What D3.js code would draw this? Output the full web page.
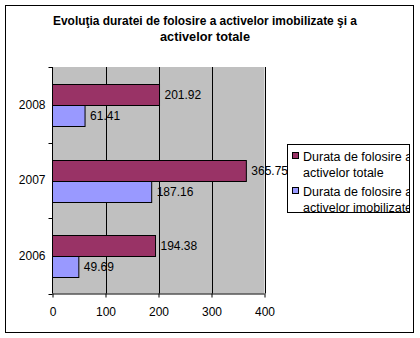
<!DOCTYPE html>
<html>
<head>
<meta charset="utf-8">
<script src="https://cdn.jsdelivr.net/npm/d3@7"></script>
<style>
  html, body { margin: 0; padding: 0; background: #fff; }
  svg { display: block; font-family: Arial, "Liberation Sans", sans-serif; }
</style>
</head>
<body>
<svg id="chart" width="420" height="338"></svg>
<script>
// Years shown on the category axis (top to bottom: 2008, 2007, 2006)
const years = ["2006", "2007", "2008"];
// Durata de folosire a activelor totale
const totale = [194.38, 365.75, 201.92];
// Durata de folosire a activelor imobilizate
const imobilizate = [49.69, 187.16, 61.41];
// Value-axis ticks
const xTicks = [0, 100, 200, 300, 400];
const seriesNames = [
  ["Durata de folosire a", "activelor totale"],
  ["Durata de folosire a", "activelor imobilizate"]
];
const seriesColors = ["#993366", "#9999FF"];
const titleLines = [
  "Evoluţia duratei de folosire a activelor imobilizate şi a",
  "activelor totale"
];
const titleWidths = [304, 90];

const svg = d3.select("#chart");

// outer frame
svg.append("rect")
  .attr("x", 5.5).attr("y", 5.5)
  .attr("width", 408).attr("height", 327)
  .attr("fill", "#fff").attr("stroke", "#000").attr("stroke-width", 1);

// title, two centred lines
titleLines.forEach((t, i) => {
  svg.append("text")
    .attr("x", 205 - titleWidths[i] / 2).attr("y", 25 + i * 16)
    .attr("font-weight", "bold")
    .attr("font-size", 12.5)
    .attr("textLength", titleWidths[i])
    .attr("lengthAdjust", "spacingAndGlyphs")
    .text(t);
});

const plot = { left: 52.5, right: 264.5, top: 67, bottom: 293.5 };

const x = d3.scaleLinear().domain([0, 400]).range([plot.left, plot.right]);
const y = d3.scaleBand().domain(years.slice().reverse())
  .range([plot.top, plot.bottom]).paddingInner(0).paddingOuter(0);
const inner = d3.scaleBand().domain([0, 1])
  .range([y.bandwidth() * 0.227, y.bandwidth() * 0.787]);

// plot background
svg.append("rect")
  .attr("x", plot.left).attr("y", plot.top)
  .attr("width", plot.right - plot.left).attr("height", plot.bottom - plot.top)
  .attr("fill", "#C0C0C0");

// vertical gridlines
svg.append("g").selectAll("line").data(xTicks.slice(1)).join("line")
  .attr("x1", d => Math.round(x(d)) + 0.5).attr("x2", d => Math.round(x(d)) + 0.5)
  .attr("y1", plot.top).attr("y2", plot.bottom)
  .attr("stroke", "#000").attr("stroke-width", 1);

// bars and their value labels
const series = [totale, imobilizate];
series.forEach((vals, si) => {
  const g = svg.append("g");
  g.selectAll("rect").data(years).join("rect")
    .attr("x", x(0))
    .attr("y", (d) => Math.round(y(d) + inner(si)) + 0.5)
    .attr("width", (d, i) => x(vals[i]) - x(0))
    .attr("height", Math.round(inner.bandwidth()))
    .attr("fill", seriesColors[si])
    .attr("stroke", "#000").attr("stroke-width", 1);
  g.selectAll("text").data(years).join("text")
    .attr("x", (d, i) => x(vals[i]) + 5)
    .attr("y", (d) => y(d) + inner(si) + inner.bandwidth() / 2 + 4.5)
    .attr("font-size", 12)
    .attr("fill", "#000")
    .text((d, i) => vals[i].toFixed(2));
});

// value axis
const xAxis = d3.axisBottom(x).tickValues(xTicks).tickSize(4).tickPadding(10);
const gx = svg.append("g").attr("transform", `translate(0,${plot.bottom})`).call(xAxis);
gx.select(".domain").attr("d", `M${plot.left},0.5H${plot.right}`);
gx.selectAll(".tick line").attr("stroke", "#000");
gx.selectAll(".tick text").attr("font-size", 12).attr("font-family", "Arial, 'Liberation Sans', sans-serif").attr("fill", "#000");

// category axis
const yAxis = d3.axisLeft(y).tickSize(0).tickPadding(7);
const gy = svg.append("g").attr("transform", `translate(${plot.left},0)`).call(yAxis);
gy.select(".domain").attr("d", `M0,${plot.top}V${plot.bottom}`);
gy.selectAll(".tick text").attr("font-size", 12).attr("font-family", "Arial, 'Liberation Sans', sans-serif").attr("fill", "#000");
// category separators as ticks
gy.append("g").selectAll("line")
  .data(years.map(d => y(d)).concat([plot.bottom]))
  .join("line")
  .attr("x1", -4).attr("x2", 0)
  .attr("y1", d => Math.round(d) + 0.5).attr("y2", d => Math.round(d) + 0.5)
  .attr("stroke", "#000");

// legend
const lg = { x: 287.5, y: 144.5, w: 122, h: 68 };
svg.append("defs").append("clipPath").attr("id", "legclip")
  .append("rect").attr("x", lg.x).attr("y", lg.y).attr("width", lg.w).attr("height", lg.h);
const legend = svg.append("g");
legend.append("rect")
  .attr("x", lg.x).attr("y", lg.y).attr("width", lg.w).attr("height", lg.h)
  .attr("fill", "#fff").attr("stroke", "#000");
const items = legend.append("g").attr("clip-path", "url(#legclip)");
seriesNames.forEach((lines, i) => {
  const top = lg.y + 8 + i * 35;
  items.append("rect")
    .attr("x", 292.5).attr("y", top).attr("width", 6).attr("height", 6)
    .attr("fill", seriesColors[i]).attr("stroke", "#000");
  lines.forEach((t, j) => {
    items.append("text")
      .attr("x", 303).attr("y", top + 8 + j * 16)
      .attr("font-size", 12.5).attr("fill", "#000")
      .text(t);
  });
});
</script>
</body>
</html>
